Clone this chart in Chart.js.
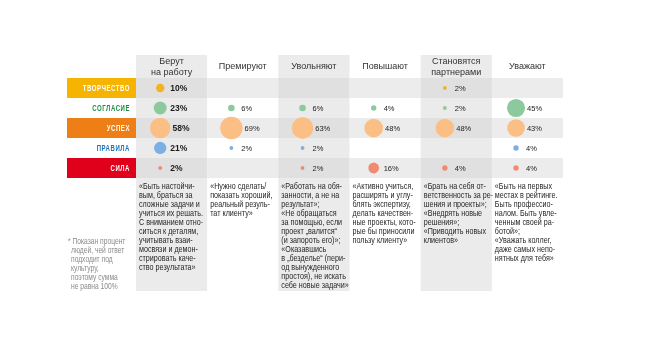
<!DOCTYPE html>
<html><head><meta charset="utf-8">
<script src="https://cdn.jsdelivr.net/npm/chart.js@4"></script>
<style>html,body{margin:0;padding:0;background:#fff}canvas{display:block}</style>
</head><body>
<canvas id="c" width="646" height="351"></canvas>
<script>
const columnHeaders = [["Берут","на работу"],["Премируют"],["Увольняют"],["Повышают"],["Становятся","партнерами"],["Уважают"]];
const rowLabels = ["ТВОРЧЕСТВО","СОГЛАСИЕ","УСПЕХ","ПРАВИЛА","СИЛА"];
const creativity = [10, null, null, null, 2, null];
const agreement  = [23, 6, 6, 4, 2, 45];
const success    = [58, 69, 63, 48, 48, 43];
const rules      = [21, 2, 2, null, null, 4];
const power      = [2, null, 2, 16, 4, 4];
const quotes = [
  ["«Быть настойчи-","вым, браться за","сложные задачи и","учиться их решать.","С вниманием отно-","ситься к деталям,","учитывать взаи-","мосвязи и демон-","стрировать каче-","ство результата»"],
  ["«Нужно сделать/","показать хороший,","реальный резуль-","тат клиенту»"],
  ["«Работать на обя-","занности, а не на","результат»;","«Не обращаться","за помощью, если","проект „валится“","(и запороть его)»;","«Оказавшись","в „безделье“ (пери-","од вынужденного","простоя), не искать","себе новые задачи»"],
  ["«Активно учиться,","расширять и углу-","блять экспертизу,","делать качествен-","ные проекты, кото-","рые бы приносили","пользу клиенту»"],
  ["«Брать на себя от-","ветственность за ре-","шения и проекты»;","«Внедрять новые","решения»;","«Приводить новых","клиентов»"],
  ["«Быть на первых","местах в рейтинге.","Быть профессио-","налом. Быть увле-","ченным своей ра-","ботой»;","«Уважать коллег,","даже самых непо-","нятных для тебя»"]
];
const footnote = ["* Показан процент","людей, чей ответ","подходит под","культуру,","поэтому сумма","не равна 100%"];

const seriesValues = [creativity, agreement, success, rules, power];
const bubbleColors = ["#f4b223","#8cc99c","#fbbf86","#7cb0e4","#f08b6f"];
const labelBg = ["#f6b300", null, "#ee7f16", null, "#e1001b"];
const labelFg = ["#ffffff", "#1d8c43", "#ffffff", "#1b72b9", "#ffffff"];
const radiusOf = v => 1.35 * Math.sqrt(v);

const datasets = seriesValues.map((vals, r) => ({
  label: rowLabels[r],
  data: vals.map((v, i) => v == null ? null : {x: i, y: r, r: radiusOf(v), v: v}).filter(d => d),
  backgroundColor: bubbleColors[r],
  borderWidth: 0,
  clip: false
}));

function narrowText(ctx, text, x, y, squeeze, align) {
  ctx.save();
  ctx.translate(x, y);
  ctx.scale(squeeze, 1);
  ctx.textAlign = align;
  ctx.fillText(text, 0, 0);
  ctx.restore();
}

const tablePlugin = {
  id: 'table',
  beforeDatasetsDraw(chart) {
    const ctx = chart.ctx, a = chart.chartArea;
    const xs = chart.scales.x, ys = chart.scales.y;
    const colW = xs.getPixelForValue(1) - xs.getPixelForValue(0);
    const rowH = ys.getPixelForValue(1) - ys.getPixelForValue(0);
    const labelLeft = a.left - 69;
    const colLeft = i => a.left + i * colW;
    const rowTop = r => ys.getPixelForValue(r) - rowH / 2;
    const headTop = a.top - 23, tableBottom = 291;
    ctx.save();
    ctx.fillStyle = '#fff'; ctx.fillRect(0, 0, chart.width, chart.height);
    for (let i = 0; i < columnHeaders.length; i += 2) {
      ctx.fillStyle = '#ebebeb';
      ctx.fillRect(colLeft(i), headTop, colW, tableBottom - headTop);
    }
    for (let r = 0; r < rowLabels.length; r += 2) {
      for (let i = 0; i < columnHeaders.length; i++) {
        ctx.fillStyle = (i % 2 === 0) ? '#e0e0e0' : '#ececec';
        ctx.fillRect(colLeft(i), rowTop(r), colW, rowH);
      }
    }
    ctx.textBaseline = 'middle';
    rowLabels.forEach((lab, r) => {
      if (labelBg[r]) { ctx.fillStyle = labelBg[r]; ctx.fillRect(labelLeft, rowTop(r), a.left - labelLeft, rowH); }
      ctx.fillStyle = labelFg[r];
      ctx.font = 'bold 8.6px "Liberation Sans", Arial, sans-serif';
      ctx.letterSpacing = '0.8px';
      narrowText(ctx, lab, a.left - 6, rowTop(r) + rowH / 2 + 0.5, 0.7, 'right');
    });
    ctx.letterSpacing = '0px';
    ctx.fillStyle = '#333';
    ctx.font = '9px "Liberation Sans", Arial, sans-serif';
    ctx.textAlign = 'center';
    columnHeaders.forEach((lines, i) => {
      const cx = colLeft(i) + colW / 2;
      const mid = (headTop + a.top) / 2 + 0.5;
      lines.forEach((t, k) => ctx.fillText(t, cx, mid + (k - (lines.length - 1) / 2) * 11));
    });
    ctx.fillStyle = '#262626';
    ctx.font = '9.2px "Liberation Sans", Arial, sans-serif';
    quotes.forEach((lines, i) => {
      lines.forEach((t, k) => narrowText(ctx, t, colLeft(i) + 3, a.bottom + 8 + k * 9, 0.78, 'left'));
    });
    ctx.fillStyle = '#8a8a8a';
    ctx.font = '8.4px "Liberation Sans", Arial, sans-serif';
    footnote.forEach((t, k) => narrowText(ctx, t, k === 0 ? labelLeft + 1 : labelLeft + 4, 242 + k * 9, 0.8, 'left'));
    ctx.restore();
  },
  afterDatasetsDraw(chart) {
    const ctx = chart.ctx;
    ctx.save();
    ctx.fillStyle = '#1c1c1c';
    ctx.textAlign = 'left'; ctx.textBaseline = 'middle';
    chart.data.datasets.forEach((ds, di) => {
      const meta = chart.getDatasetMeta(di);
      meta.data.forEach((el, j) => {
        const d = ds.data[j];
        ctx.font = d.x === 0 ? 'bold 8.5px "Liberation Sans", Arial, sans-serif' : '7.5px "Liberation Sans", Arial, sans-serif';
        ctx.fillText(d.v + '%', el.x + Math.max(10, d.r + 2), el.y + 0.5);
      });
    });
    ctx.restore();
  }
};

new Chart(document.getElementById('c'), {
  type: 'bubble',
  data: { datasets },
  options: {
    responsive: false, animation: false, devicePixelRatio: 1,
    layout: { autoPadding: false, padding: { left: 136, right: 83, top: 78, bottom: 173 } },
    scales: {
      x: { type: 'linear', min: -0.34, max: 5.66, display: false },
      y: { type: 'linear', min: -0.5, max: 4.5, reverse: true, display: false }
    },
    plugins: { legend: { display: false }, tooltip: { enabled: false } },
    elements: { point: { hoverRadius: 0 } }
  },
  plugins: [tablePlugin]
});
</script>
</body></html>
